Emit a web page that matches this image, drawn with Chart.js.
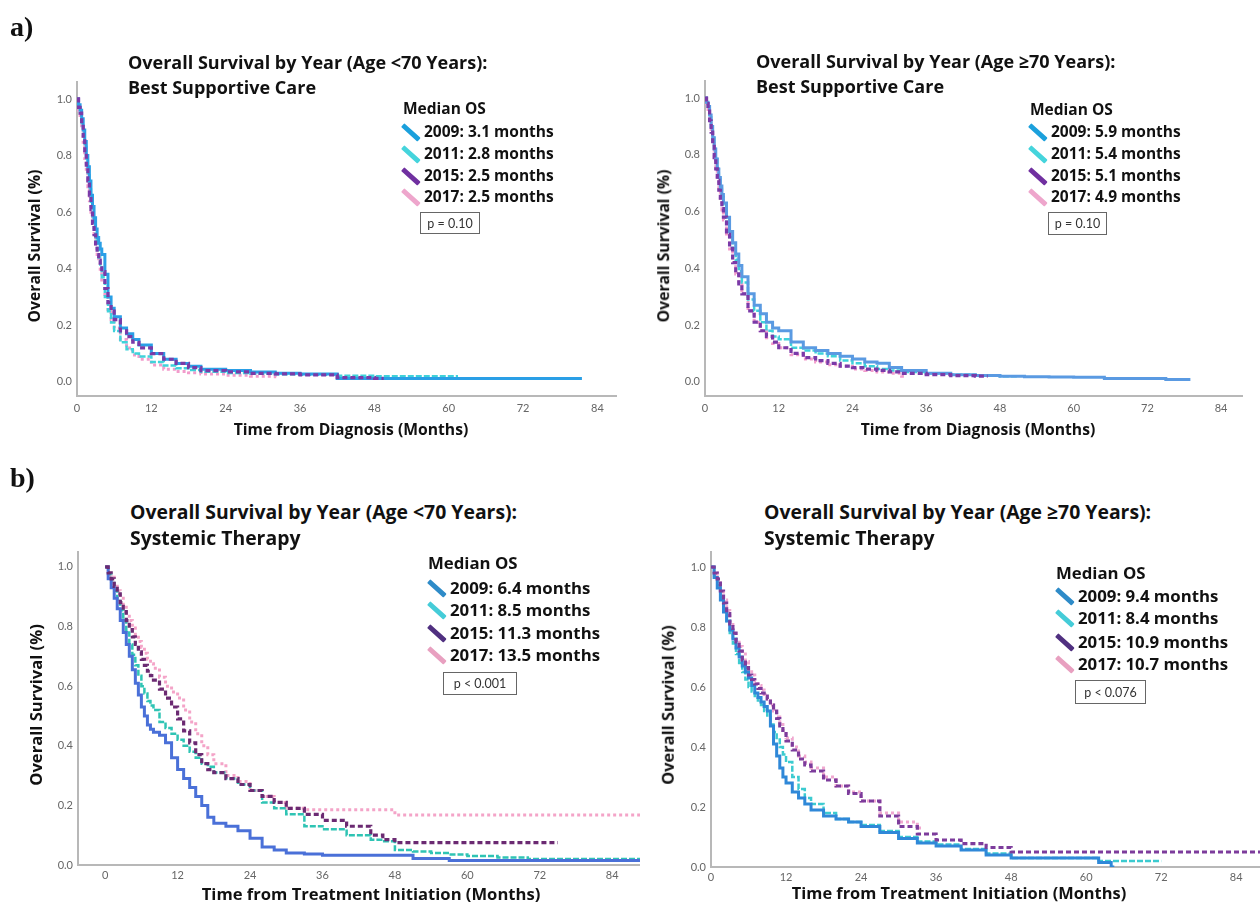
<!DOCTYPE html>
<html>
<head>
<meta charset="utf-8">
<script src="https://cdn.jsdelivr.net/npm/chart.js@4.4.1/dist/chart.umd.min.js"></script>
<style>
  body { margin: 0; background: #fff; }
  #fig { position: relative; width: 1260px; height: 908px; overflow: hidden; background: #fff; font-family: 'Open Sans', Lato, sans-serif; color: #111; }
  #fig canvas { position: absolute; }
  .txt { position: absolute; white-space: nowrap; line-height: 1; font-weight: bold; }
  .pbox { position: absolute; border: 1.5px solid #666; box-sizing: border-box; font-family: Lato, sans-serif; font-weight: normal; color: #333; display: flex; align-items: center; justify-content: center; font-size: 12.5px; }
  .sw { position: absolute; height: 4.5px; width: 22px; border-radius: 1px; transform: rotate(42deg); transform-origin: center; }
</style>
</head>
<body>
<div id="fig"></div>
<script>
// ---- data ----
const years = ['2009', '2011', '2015', '2017'];

// a) left: age < 70, best supportive care
const aLeftTimes = [0, .25, .5, .75, 1, 1.25, 1.5, 1.75, 2, 2.25, 2.5, 2.75, 3, 3.25, 3.5, 3.75, 4, 4.5, 5, 5.5, 6, 7, 8, 9, 10, 12, 14, 16, 18, 20, 24, 28, 32, 36, 42, 48, 54, 60];
const aLeft2009 = [1, .98, .96, .93, .89, .85, .80, .76, .71, .66, .62, .58, .54, .51, .49, .47, .45, .38, .30, .26, .23, .19, .17, .15, .13, .10, .08, .065, .055, .045, .04, .035, .03, .028, .012, .012, .012, .012];
const aLeft2011 = [1, .97, .95, .91, .87, .83, .78, .73, .68, .63, .58, .54, .50, .47, .44, .41, .37, .30, .25, .21, .18, .14, .115, .10, .09, .07, .058, .048, .042, .036, .031, .029, .027, .025, .022, .02, .02, .02];
const aLeft2015 = [1, .97, .95, .91, .86, .81, .76, .71, .66, .61, .56, .52, .48, .45, .43, .41, .39, .33, .28, .25, .22, .18, .16, .14, .12, .10, .08, .065, .05, .04, .035, .03, .028, .025, .015, .012];
const aLeft2017 = [1, .96, .93, .89, .84, .79, .74, .69, .64, .60, .55, .51, .48, .45, .42, .39, .36, .30, .25, .22, .19, .15, .12, .095, .08, .06, .045, .037, .032, .028, .023, .02, .018];
const aLeftEnds = [81.5, 61.5, 49.5, 32.5];
const aLeftMedians = ['3.1', '2.8', '2.5', '2.5'];
const aLeftP = 'p = 0.10';

// a) right: age >= 70, best supportive care
const aRightTimes = [0, .25, .5, .75, 1, 1.25, 1.5, 1.75, 2, 2.25, 2.5, 2.75, 3, 3.5, 4, 4.5, 5, 5.5, 6, 7, 8, 9, 10, 11, 12, 14, 16, 18, 20, 22, 24, 26, 28, 30, 32, 36, 40, 44, 48, 52, 56, 60, 65, 70, 75];
const aRight2009 = [1, .985, .97, .94, .90, .86, .82, .785, .75, .72, .69, .66, .63, .58, .53, .49, .45, .41, .37, .31, .27, .24, .21, .19, .18, .14, .12, .11, .10, .09, .08, .07, .065, .05, .04, .03, .025, .022, .02, .018, .017, .016, .012, .012, .008];
const aRight2011 = [1, .985, .97, .94, .90, .86, .82, .785, .75, .715, .68, .65, .62, .56, .51, .47, .43, .39, .35, .29, .25, .21, .18, .16, .15, .12, .11, .10, .09, .075, .065, .055, .045, .04, .035, .03, .025, .022, .02];
const aRight2015 = [1, .98, .96, .92, .88, .84, .79, .75, .71, .675, .64, .61, .58, .52, .47, .42, .38, .345, .31, .25, .21, .18, .16, .14, .12, .10, .085, .075, .065, .055, .05, .045, .04, .035, .03, .025, .022, .02];
const aRight2017 = [1, .98, .96, .92, .88, .84, .79, .75, .71, .675, .64, .605, .57, .51, .46, .42, .38, .345, .31, .25, .21, .18, .155, .135, .12, .095, .08, .07, .06, .055, .045, .04, .035, .03, .02];
const aRightEnds = [79, 51, 46, 32.5];
const aRightMedians = ['5.9', '5.4', '5.1', '4.9'];
const aRightP = 'p = 0.10';

// b) left: age < 70, systemic therapy
const bLeftTimes = [0, .5, 1, 1.5, 2, 2.5, 3, 3.5, 4, 4.5, 5, 5.5, 6, 6.5, 7, 7.5, 8, 9, 10, 11, 12, 13, 14, 15, 16, 17, 18, 20, 22, 24, 26, 28, 30, 33, 36, 40, 44, 46, 48, 51, 54, 57, 60, 65, 70, 75];
const bLeft2009 = [1, .96, .93, .895, .86, .82, .78, .74, .70, .655, .61, .57, .53, .50, .47, .455, .445, .435, .41, .36, .32, .29, .26, .23, .20, .16, .14, .13, .115, .09, .06, .05, .04, .037, .033, .033, .033, .033, .033, .022, .022, .015, .015, .015, .015, .015];
const bLeft2011 = [1, .975, .95, .92, .89, .855, .82, .78, .74, .705, .67, .635, .60, .575, .55, .535, .52, .48, .46, .44, .42, .40, .38, .36, .34, .33, .31, .29, .27, .25, .21, .19, .17, .13, .12, .10, .085, .08, .05, .045, .04, .035, .03, .025, .02, .02];
const bLeft2015 = [1, .98, .96, .935, .91, .88, .85, .82, .79, .765, .74, .715, .69, .67, .65, .635, .62, .59, .56, .53, .49, .45, .41, .37, .34, .32, .31, .29, .27, .25, .23, .21, .19, .17, .15, .13, .10, .085, .075];
const bLeft2017 = [1, .985, .97, .945, .92, .895, .87, .845, .82, .795, .77, .75, .73, .71, .69, .675, .66, .63, .60, .58, .56, .52, .48, .44, .40, .37, .34, .30, .28, .25, .23, .21, .19, .185, .185, .185, .185, .185, .168];
const bLeftEnds = [88.6, 88.6, 75, 88.6];
const bLeftMedians = ['6.4', '8.5', '11.3', '13.5'];
const bLeftP = 'p < 0.001';

// b) right: age >= 70, systemic therapy
const bRightTimes = [0, .5, 1, 1.5, 2, 2.5, 3, 3.5, 4, 4.5, 5, 5.5, 6, 6.5, 7, 7.5, 8, 8.5, 9, 9.5, 10, 10.5, 11, 11.5, 12, 13, 14, 15, 16, 18, 20, 22, 24, 27, 30, 33, 36, 40, 44, 48, 52, 56, 60, 62, 64];
const bRight2009 = [1, .965, .93, .89, .85, .82, .79, .76, .73, .70, .67, .65, .63, .605, .58, .565, .55, .535, .52, .47, .41, .37, .33, .30, .28, .25, .23, .21, .19, .17, .16, .15, .135, .115, .095, .08, .07, .057, .04, .03, .03, .03, .03, .015, 0];
const bRight2011 = [1, .97, .94, .90, .86, .82, .78, .745, .71, .68, .65, .625, .60, .585, .57, .555, .54, .52, .50, .475, .45, .425, .40, .375, .35, .30, .26, .23, .21, .18, .16, .15, .14, .12, .10, .085, .075, .06, .045, .03, .03, .03, .03, .02, .02];
const bRight2015 = [1, .98, .96, .92, .88, .845, .81, .78, .75, .72, .69, .665, .64, .625, .61, .595, .58, .57, .56, .54, .52, .495, .47, .445, .42, .39, .36, .34, .32, .29, .27, .245, .22, .17, .135, .11, .09, .078, .065, .05];
const bRight2017 = [1, .98, .96, .925, .89, .855, .82, .79, .76, .735, .71, .685, .66, .64, .62, .605, .59, .575, .56, .54, .52, .50, .48, .455, .43, .40, .37, .35, .33, .30, .27, .25, .22, .18, .15, .13];
const bRightEnds = [64.5, 72, 87.8, 34];
const bRightMedians = ['9.4', '8.4', '10.9', '10.7'];
const bRightP = 'p < 0.076';

// ---- styles / layout ----
const lineStyles = [
  { w: 3, dash: [], order: 1 },
  { w: 2.5, dash: [6, 2], order: 2 },
  { w: 3.2, dash: [5, 3], order: 0 },
  { w: 3, dash: [3, 3], order: 3 }
];

const panels = [
  {
    box: [0, 60, 630, 360], pad: { left: 37, top: 22, right: 14, bottom: 4 },
    x: [0, 87], y: [-0.05, 1.06], xPad: 6,
    times: aLeftTimes, sets: [aLeft2009, aLeft2011, aLeft2015, aLeft2017], ends: aLeftEnds,
    colors: ['#2a9fe6', '#3fd2da', '#7a3aa8', '#f29ccc'],
    swatch: ['#1ba0dc', '#45d4dc', '#7030a0', '#eea6cc'],
    title: ['Overall Survival by Year (Age <70 Years):', 'Best Supportive Care'], titleAt: [128, 62, 87], titleSize: 18,
    yTitleAt: [35, 246], xTitle: 'Time from Diagnosis (Months)', xTitleAt: [351, 430], axisSize: 15.7,
    medians: aLeftMedians, p: aLeftP, legHead: [403, 109], legX: 424, legY: [132, 154, 176, 197], legSize: 15.5,
    pBox: [420, 212, 60, 22]
  },
  {
    box: [630, 60, 630, 360], pad: { left: 35, top: 21, right: 18, bottom: 4 },
    x: [0, 87.4], y: [-0.05, 1.06], xPad: 6,
    times: aRightTimes, sets: [aRight2009, aRight2011, aRight2015, aRight2017], ends: aRightEnds,
    colors: ['#5a9ae2', '#3fd2da', '#7a3aa8', '#f29ccc'],
    swatch: ['#1ba0dc', '#45d4dc', '#7030a0', '#eea6cc'],
    title: ['Overall Survival by Year (Age \u226570 Years):', 'Best Supportive Care'], titleAt: [756, 61, 86], titleSize: 18,
    yTitleAt: [664, 246], xTitle: 'Time from Diagnosis (Months)', xTitleAt: [978, 430], axisSize: 15.7,
    medians: aRightMedians, p: aRightP, legHead: [1030, 110], legX: 1051, legY: [132, 154, 176, 197], legSize: 15.5,
    pBox: [1048, 212, 59, 23]
  },
  {
    box: [0, 530, 640, 370], pad: { left: 38, top: 22, right: 0, bottom: 15 },
    x: [-4.5, 88.6], y: [0, 1.05], xPad: 4,
    times: bLeftTimes, sets: [bLeft2009, bLeft2011, bLeft2015, bLeft2017], ends: bLeftEnds,
    colors: ['#4a70d8', '#2fc4b4', '#6b2a72', '#f4a4c8'],
    swatch: ['#2e8bc8', '#45ccd8', '#503080', '#e8a0c0'],
    title: ['Overall Survival by Year (Age <70 Years):', 'Systemic Therapy'], titleAt: [130, 512, 538], titleSize: 19.4,
    yTitleAt: [36, 705], xTitle: 'Time from Treatment Initiation (Months)', xTitleAt: [371, 894], axisSize: 16.6,
    medians: bLeftMedians, p: bLeftP, legHead: [428, 563], legX: 450, legY: [588, 610, 633, 655], legSize: 16.8,
    pBox: [443, 672, 74, 23]
  },
  {
    box: [640, 530, 620, 370], pad: { left: 31, top: 22, right: 0, bottom: 13 },
    x: [0, 87.8], y: [0, 1.05], xPad: 4,
    times: bRightTimes, sets: [bRight2009, bRight2011, bRight2015, bRight2017], ends: bRightEnds,
    colors: ['#2f88d8', '#3ccbd0', '#7d3c9c', '#f0a8d0'],
    swatch: ['#2e8bc8', '#45ccd8', '#503080', '#e8a0c0'],
    title: ['Overall Survival by Year (Age \u226570 Years):', 'Systemic Therapy'], titleAt: [764, 512, 538], titleSize: 19.4,
    yTitleAt: [668, 705], xTitle: 'Time from Treatment Initiation (Months)', xTitleAt: [959, 893], axisSize: 16.4,
    medians: bRightMedians, p: bRightP, legHead: [1056, 573], legX: 1078, legY: [596, 618, 642, 664], legSize: 16.8,
    pBox: [1075, 680, 71, 24]
  }
];

const fig = document.getElementById('fig');

// text helper: x = left edge (or centre when centred), y = vertical centre
function addText(text, x, y, size, opts = {}) {
  const d = document.createElement('div');
  d.className = 'txt';
  d.textContent = text;
  d.style.fontSize = size + 'px';
  if (opts.family) d.style.fontFamily = opts.family;
  let tf = 'translateY(-50%)';
  if (opts.center) tf = 'translate(-50%,-50%)';
  if (opts.rotate) tf = 'translate(-50%,-50%) rotate(-90deg)';
  d.style.transform = tf;
  d.style.left = x + 'px';
  d.style.top = y + 'px';
  fig.appendChild(d);
  return d;
}

function curve(times, vals, end) {
  const pts = vals.map((v, i) => ({ x: times[i], y: v }));
  pts.push({ x: end, y: vals[vals.length - 1] });
  return pts;
}

const tickFont = { family: "Lato, 'Open Sans', sans-serif", size: 11 };

function makePanel(p) {
  const c = document.createElement('canvas');
  c.width = p.box[2];
  c.height = p.box[3];
  c.style.left = p.box[0] + 'px';
  c.style.top = p.box[1] + 'px';
  fig.appendChild(c);

  new Chart(c, {
    type: 'line',
    data: {
      datasets: p.sets.map((vals, i) => ({
        label: years[i],
        data: curve(p.times, vals, p.ends[i]),
        borderColor: p.colors[i],
        borderWidth: lineStyles[i].w,
        borderDash: lineStyles[i].dash,
        order: lineStyles[i].order,
        stepped: true,
        pointRadius: 0,
        fill: false
      }))
    },
    options: {
      responsive: false,
      animation: false,
      events: [],
      layout: { padding: p.pad },
      plugins: { legend: { display: false }, tooltip: { enabled: false } },
      scales: {
        x: {
          type: 'linear', min: p.x[0], max: p.x[1],
          grid: { display: false, drawTicks: false },
          border: { display: true, color: '#b8b8b8', width: 2 },
          ticks: { stepSize: 12, includeBounds: false, padding: p.xPad, color: '#666', font: tickFont, maxRotation: 0, autoSkip: false },
          afterFit: s => { s.height = 20; }
        },
        y: {
          type: 'linear', min: p.y[0], max: p.y[1],
          grid: { display: false, drawTicks: false },
          border: { display: true, color: '#b8b8b8', width: 2 },
          ticks: { stepSize: 0.2, includeBounds: false, padding: 5, color: '#666', font: tickFont, callback: v => v.toFixed(1) },
          afterFit: s => { s.width = 40; }
        }
      }
    }
  });

  // titles
  addText(p.title[0], p.titleAt[0], p.titleAt[1], p.titleSize);
  addText(p.title[1], p.titleAt[0], p.titleAt[2], p.titleSize);
  addText('Overall Survival (%)', p.yTitleAt[0], p.yTitleAt[1], p.axisSize, { rotate: true });
  addText(p.xTitle, p.xTitleAt[0], p.xTitleAt[1], p.axisSize, { center: true });

  // legend
  addText('Median OS', p.legHead[0], p.legHead[1], p.legSize);
  years.forEach((yr, i) => {
    const y = p.legY[i];
    addText(yr + ': ' + p.medians[i] + ' months', p.legX, y, p.legSize);
    const s = document.createElement('div');
    s.className = 'sw';
    s.style.background = p.swatch[i];
    s.style.left = (p.legX - 24) + 'px';
    s.style.top = (y - 2) + 'px';
    fig.appendChild(s);
  });
  const pb = document.createElement('div');
  pb.className = 'pbox';
  pb.textContent = p.p;
  pb.style.left = p.pBox[0] + 'px';
  pb.style.top = p.pBox[1] + 'px';
  pb.style.width = p.pBox[2] + 'px';
  pb.style.height = p.pBox[3] + 'px';
  fig.appendChild(pb);
}

panels.forEach(makePanel);

addText('a)', 10, 27, 28, { family: "'Liberation Serif', 'Times New Roman', serif" });
addText('b)', 10, 478, 28, { family: "'Liberation Serif', 'Times New Roman', serif" });
</script>
</body>
</html>
